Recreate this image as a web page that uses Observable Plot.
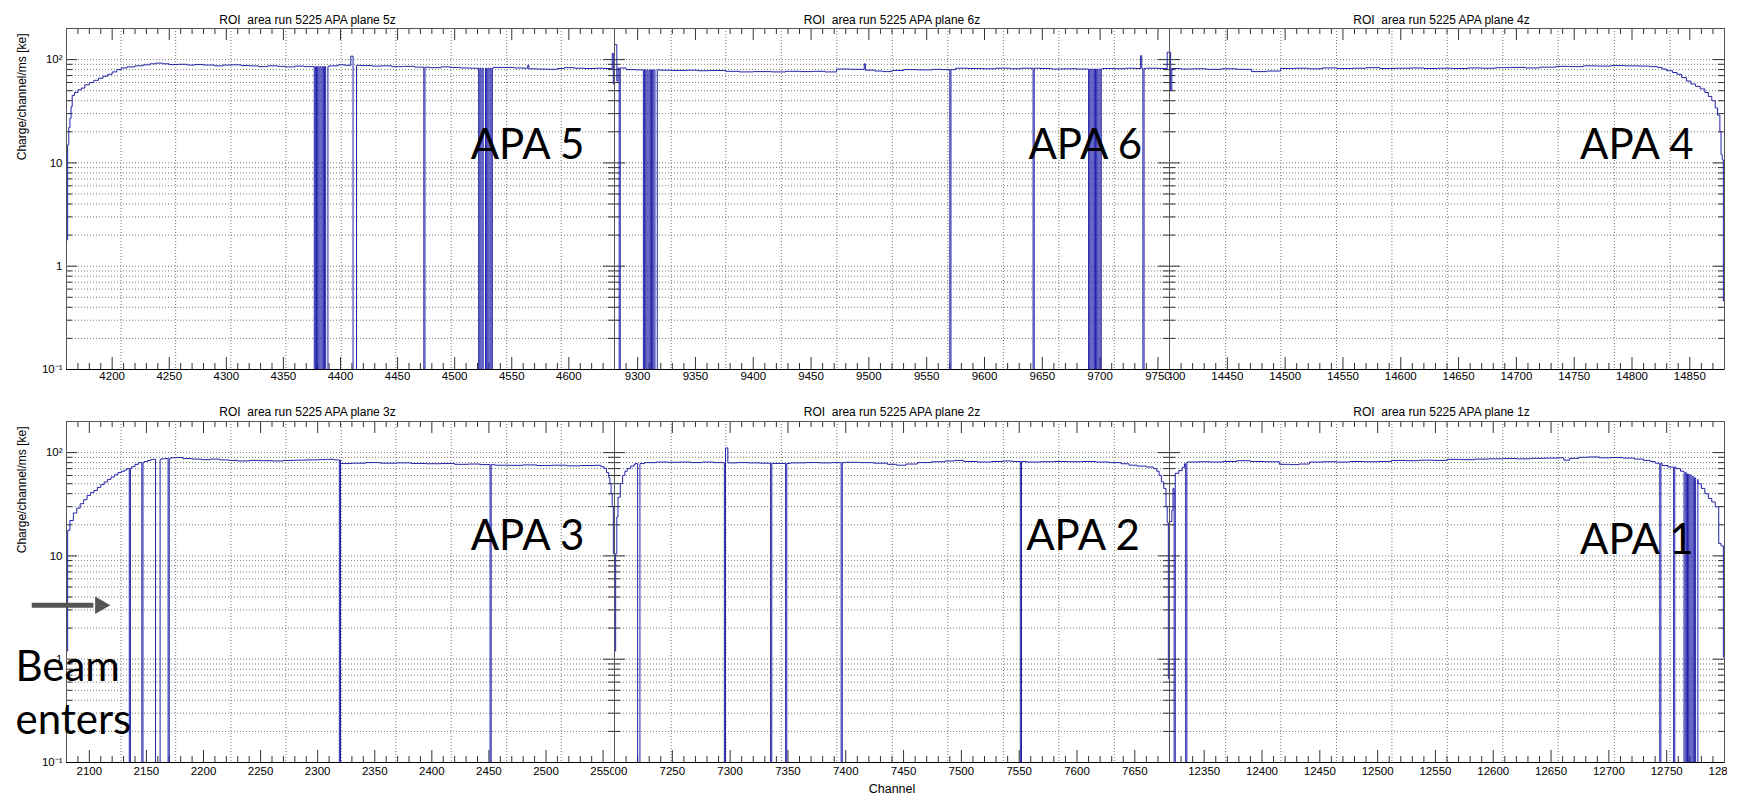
<!DOCTYPE html>
<html>
<head>
<meta charset="utf-8">
<script src="https://cdn.jsdelivr.net/npm/d3@7"></script>
<script src="https://cdn.jsdelivr.net/npm/@observablehq/plot@0.6"></script>
<style>
  html, body { margin: 0; padding: 0; background: #fff; }
  #chart { position: relative; width: 1739px; height: 800px; overflow: hidden; background: #fff; }
</style>
</head>
<body>
<div id="chart"></div>
<script>
// ---------------- data ----------------
const RUN = "5225";
const CHANNELS_PER_PLANE = 480;
const Y_DOMAIN = [0.1, 200];

// profile: [channel, charge] ; step histogram, value holds until next point
const apa5Profile = [[4160,1.8],[4161,15],[4162,22],[4163,27],[4164,35],[4165,45],[4167,48],[4170,51],[4173,53],[4176,57],[4180,60],[4184,63],[4188,66],[4192,69],[4196,72],[4200,76],[4204,80],[4208,83],[4213,85],[4220,87],[4227,89],[4233,91],[4238,92.5],[4244,91],[4250,89.5],[4258,90],[4266,88.5],[4272,89.5],[4280,88.5],[4290,87],[4297,88.5],[4305,89],[4313,87.5],[4320,87],[4328,85.5],[4336,87],[4345,86],[4352,85],[4360,86.5],[4368,85.5],[4390,87],[4398,89],[4404,88],[4409,108],[4411,88],[4418,87.5],[4428,86.5],[4436,87],[4445,85.5],[4455,86],[4465,84.5],[4478,83.5],[4488,85],[4496,84],[4505,83],[4514,82.5],[4534,84],[4542,84],[4552,83],[4560,82.5],[4564,88],[4565,81.5],[4572,81],[4581,80.5],[4590,82],[4596,83.5],[4605,82.5],[4614,82],[4623,82.5],[4630,82],[4638,115],[4639,58],[4640,58]];
// dead channels: [first, last+1, level before the drop]
const apa5Dead = [[4377,4378,85.5],[4379,4380,85.5],[4381,4382,85.5],[4383,4384,85.5],[4385,4386,85.5],[4387,4389,85.5],[4411,4414,88],[4473,4474,84.5],[4521,4522,82.5],[4523,4524,82.5],[4525,4527,82.5],[4528,4529,82.5],[4530,4531,82.5],[4532,4533,82.5]];

const apa6Profile = [[9280,140],[9282,62],[9283,83],[9290,80],[9298,79.5],[9320,79],[9330,78.5],[9342,79],[9352,78],[9362,78.5],[9376,77],[9388,76],[9400,76.5],[9416,76],[9428,77],[9440,76.5],[9452,77],[9462,76],[9472,81],[9484,80.5],[9496,91],[9497,79],[9505,77.5],[9512,76.5],[9520,78.5],[9530,80],[9542,79.5],[9555,80.5],[9563,80],[9575,82.5],[9586,82],[9598,81.5],[9610,82.5],[9622,81.5],[9632,82.5],[9648,82],[9658,81],[9668,81.5],[9680,81],[9702,82],[9712,81.5],[9722,82.5],[9730,82],[9735,109],[9736,82],[9740,82.5],[9750,82],[9758,118],[9760,118]];
const apa6Dead = [[9284,9285,83],[9305,9306,79.5],[9307,9308,79.5],[9309,9310,79.5],[9311,9312,79.5],[9313,9314,79.5],[9315,9317,79.5],[9570,9571,80],[9642,9643,82.5],[9690,9691,81],[9692,9693,81],[9694,9695,81],[9696,9697,81],[9698,9699,81],[9700,9701,81],[9737,9738,82]];

const apa4Profile = [[14400,118],[14401,50],[14402,82],[14410,81],[14420,81.5],[14432,80.5],[14445,81.5],[14458,80.5],[14471,76.5],[14484,77.5],[14496,82],[14508,82.5],[14520,81.5],[14532,83],[14545,82],[14558,82.5],[14570,83.5],[14582,82],[14595,82.5],[14608,83],[14620,82],[14632,82.5],[14645,82],[14658,83],[14670,82.5],[14682,83.5],[14695,84],[14708,83],[14720,84.5],[14734,86],[14746,85.5],[14758,87],[14770,86.5],[14782,87.5],[14794,87],[14806,86.5],[14815,85.5],[14822,84],[14826,81],[14830,78],[14835,75],[14839,72],[14843,67],[14847,62],[14851,58],[14855,55],[14859,52],[14863,48],[14866,44],[14869,40],[14872,34],[14874,29],[14876,20],[14877,12],[14878,10.7],[14879,0.46],[14880,0.46]];
const apa4Dead = [];

const apa3Profile = [[2080,1.2],[2081,17.7],[2083,22],[2086,26],[2089,29],[2092,32],[2095,35],[2098,38.5],[2101,41],[2104,43],[2107,46],[2110,49],[2113,52],[2116,55],[2119,58],[2122,61],[2125,64],[2128,66],[2131,68],[2133,70],[2137,73],[2140,77],[2143,80],[2148,82],[2151,84],[2154,86],[2163,87],[2166,87.5],[2171,89],[2176,89.5],[2182,87.5],[2190,86.5],[2198,85.5],[2206,86.5],[2214,85],[2222,84],[2230,83],[2240,84],[2250,83.5],[2260,83],[2270,84],[2280,84.5],[2290,85],[2300,85.5],[2308,86],[2314,85],[2320,78.3],[2330,79],[2342,80],[2355,79],[2369,79.5],[2382,78.5],[2395,78],[2408,78.3],[2420,77],[2432,77.5],[2442,76.5],[2455,75.5],[2468,75.3],[2480,76],[2492,75],[2505,75.5],[2518,74.5],[2530,75],[2542,75.3],[2548,73],[2551,70],[2553,64],[2555,57],[2556,50],[2557,40],[2558,30],[2559,10.5],[2560,10.5]];
const apa3Dead = [[2135,2136,70],[2146,2147,80],[2158,2162,86],[2169,2170,87.5],[2319,2320,85],[2451,2452,76.5]];

const apa2Profile = [[7200,1.2],[7201,10.5],[7202,23.8],[7203,37],[7205,50],[7207,60],[7209,66],[7211,70],[7214,74],[7217,77],[7218,78.3],[7226,80],[7236,81],[7246,80.5],[7256,81],[7266,80],[7276,81],[7286,80],[7296,111],[7298,79.5],[7306,80],[7316,79.5],[7326,79],[7337,78.5],[7352,79.5],[7365,80],[7378,79.5],[7388,80],[7400,80.5],[7412,80],[7424,79],[7436,77],[7444,75.5],[7452,77.5],[7462,80],[7474,81.5],[7486,83],[7494,84],[7502,82],[7514,81],[7526,82],[7536,83],[7544,82],[7556,81],[7568,81.5],[7580,82],[7592,81.5],[7604,82],[7616,81],[7628,80],[7638,78],[7645,75.5],[7652,74],[7660,72.5],[7666,70],[7669,66],[7671,60],[7673,52],[7675,45],[7677,30],[7678,21],[7679,0.65],[7680,0.65]];
const apa2Dead = [[7220,7222,78.3],[7295,7296,80],[7335,7336,79],[7348,7349,78.5],[7396,7397,80],[7551,7552,82]];

const apa1Profile = [[12320,21.5],[12322,27.6],[12323,45],[12325,63],[12328,67],[12331,72],[12333,78],[12335,81],[12345,81.5],[12355,81],[12366,82],[12378,83.5],[12390,82],[12402,81.5],[12415,77],[12424,76.5],[12432,77.5],[12441,81],[12452,81.5],[12464,81],[12476,82],[12488,81.5],[12500,82],[12512,84],[12524,83.5],[12536,84.5],[12548,84],[12560,86],[12572,85.5],[12584,86.5],[12596,87],[12608,87.5],[12620,87],[12632,88],[12645,88.5],[12657,89],[12661,84.5],[12666,88],[12674,90],[12682,90.7],[12692,89],[12702,89.5],[12712,88.5],[12722,86.5],[12730,84],[12736,82],[12740,79],[12746,75],[12751,72.5],[12758,70],[12762,66],[12777,50],[12780,45],[12783,40],[12786,36],[12789,33.3],[12792,29.8],[12795,13.2],[12797,12.5],[12799,1.05],[12800,1.05]];
const apa1Dead = [[12324,12325,45],[12334,12335,78],[12744,12745,79],[12756,12757,72.5],[12765,12766,64],[12767,12768,62],[12769,12770,61],[12771,12772,59],[12773,12774,57],[12775,12777,55]];

// x tick labels per plane
const apa5Ticks = [4200,4250,4300,4350,4400,4450,4500,4550,4600];
const apa6Ticks = [9300,9350,9400,9450,9500,9550,9600,9650,9700,9750];
const apa4Ticks = [14400,14450,14500,14550,14600,14650,14700,14750,14800,14850];
const apa3Ticks = [2100,2150,2200,2250,2300,2350,2400,2450,2500,2550];
const apa2Ticks = [7200,7250,7300,7350,7400,7450,7500,7550,7600,7650];
const apa1Ticks = [12350,12400,12450,12500,12550,12600,12650,12700,12750,12800];

// dotted vertical grid lines, channel offsets from the first channel of the plane
const gridCol1 = [47.8,95.6,144,192.2,240.7,288.5,337,385.5,433.3];
const gridCol2 = [49,96.3,144.3,192.3,240.3,288.3,336.3,384.3,432.3];
const gridCol3 = [48.5,96.3,144.4,192.4,240.2,288.3,336.1,384.8,432.9];

// y axis labels
const yTickValues = [100, 10, 1, 0.1];
const yTickText = ["10\u00b2", "10", "1", "10\u207b\u00b9"];
const yTitle = "Charge/channel/ms [ke]";
const xTitle = "Channel";

// big annotations (channel, charge of the baseline start)
const apaLabels = {
  "5z": [{text: "APA 5", x: 4514, y: 11}],
  "6z": [{text: "APA 6", x: 9638, y: 11}],
  "4z": [{text: "APA 4", x: 14755, y: 11}],
  "3z": [{text: "APA 3", x: 2434, y: 11.3}, {text: "Beam", x: 2035.3, y: 0.61}, {text: "enters", x: 2035.3, y: 0.19}],
  "2z": [{text: "APA 2", x: 7556, y: 11.3}],
  "1z": [{text: "APA 1", x: 12675, y: 10.4}]
};
const beamArrow = [{x1: 2050, x2: 2104, xHead: 2109.5, y: 3.33}];

// ---------------- layout ----------------
const rows = [
  {top: 0, height: 395, mt: 28, mb: 26, titleDy: -13, labelDy: 10},
  {top: 395, height: 405, mt: 26, mb: 38, titleDy: -14, labelDy: 12}
];
const cols = [
  {left: 0, width: 614, ml: 66, mr: 0, titleDx: -33, grid: gridCol1},
  {left: 614, width: 555, ml: 0, mr: 0, titleDx: 0, grid: gridCol2},
  {left: 1169, width: 558, ml: 0, mr: 3, titleDx: -5.5, grid: gridCol3}
];
const panels = [
  {row: 0, col: 0, plane: "5z", start: 4160, profile: apa5Profile, dead: apa5Dead, ticks: apa5Ticks},
  {row: 0, col: 1, plane: "6z", start: 9280, profile: apa6Profile, dead: apa6Dead, ticks: apa6Ticks},
  {row: 0, col: 2, plane: "4z", start: 14400, profile: apa4Profile, dead: apa4Dead, ticks: apa4Ticks},
  {row: 1, col: 0, plane: "3z", start: 2080, profile: apa3Profile, dead: apa3Dead, ticks: apa3Ticks},
  {row: 1, col: 1, plane: "2z", start: 7200, profile: apa2Profile, dead: apa2Dead, ticks: apa2Ticks},
  {row: 1, col: 2, plane: "1z", start: 12320, profile: apa1Profile, dead: apa1Dead, ticks: apa1Ticks}
];

const LINE = "#2222aa";
const GRID = "#7a7a7a";
const TICK = "#333";
const ROOTFONT = "'Liberation Sans', Arial, Helvetica, sans-serif";
const Y_FLOOR = 0.02;

const yMajor = [0.1, 1, 10, 100];
const yMinor = [];
for (const dec of yMajor) for (let m = 2; m <= 9; m++) {
  const v = +(m * dec).toPrecision(3);
  if (v < Y_DOMAIN[1]) yMinor.push(v);
}
const yGrid = yMajor.slice(1).concat(yMinor);

function histogram(profile, dead) {
  const pts = [];
  const d = dead.slice().sort((a, b) => a[0] - b[0]);
  let k = 0;
  const flush = (x) => {
    while (k < d.length && x > d[k][0]) {
      const [s, e, t] = d[k++];
      pts.push({x: s, y: t}, {x: s, y: Y_FLOOR}, {x: e, y: Y_FLOOR}, {x: e, y: t});
    }
  };
  for (const [x, y] of profile) { flush(x); pts.push({x, y}); }
  flush(Infinity);
  return pts;
}

const chart = document.getElementById("chart");
for (const p of panels) {
  const r = rows[p.row], c = cols[p.col];
  const fw = c.width - c.ml - c.mr, fh = r.height - r.mt - r.mb;
  const end = p.start + CHANNELS_PER_PLANE;
  const xMajor = d3.range(Math.ceil(p.start / 50) * 50, end + 1, 50);
  const xMinor = d3.range(p.start + 10, end, 10).filter(v => v % 50 !== 0);
  const gridX = c.grid.map(o => p.start + o);
  const title = `ROI\u00a0 area run ${RUN} APA plane ${p.plane}`;

  const marks = [
    Plot.ruleY(yGrid, {stroke: GRID, strokeDasharray: "1,2"}),
    Plot.ruleX(gridX, {stroke: GRID, strokeDasharray: "1,2"}),
    // y ticks, left and right
    Plot.ruleY(yMajor, {stroke: TICK, insetRight: fw - 11}),
    Plot.ruleY(yMinor, {stroke: TICK, insetRight: fw - 6}),
    Plot.ruleY(yMajor, {stroke: TICK, insetLeft: fw - 11}),
    Plot.ruleY(yMinor, {stroke: TICK, insetLeft: fw - 6}),
    // x ticks, bottom and top
    Plot.ruleX(xMajor, {stroke: TICK, insetTop: fh - 12}),
    Plot.ruleX(xMinor, {stroke: TICK, insetTop: fh - 6}),
    Plot.ruleX(xMajor, {stroke: TICK, insetBottom: fh - 12}),
    Plot.ruleX(xMinor, {stroke: TICK, insetBottom: fh - 6}),
    Plot.line(histogram(p.profile, p.dead), {x: "x", y: "y", curve: "step-after", stroke: LINE, strokeWidth: 1, clip: true}),
    Plot.frame({stroke: "#555"}),
    Plot.ruleY([Y_DOMAIN[0]], {stroke: "#000"}),
    Plot.text(p.ticks, {x: d => d, text: d => String(d), frameAnchor: "bottom", dy: r.labelDy, fontSize: 11.5, fill: "#000"}),
    Plot.text([title], {frameAnchor: "top", dx: c.titleDx, dy: r.titleDy, fontSize: 12, fill: "#000"})
  ];
  if (p.col === 0) {
    marks.push(
      Plot.text(yTickValues, {y: d => d, text: (d, i) => yTickText[i], frameAnchor: "left", dx: -4, textAnchor: "end", fontSize: 11.5, fill: "#000"}),
      Plot.text([yTitle], {frameAnchor: "top-left", rotate: -90, textAnchor: "end", dx: -49, dy: 5, fontSize: 12, fill: "#000"})
    );
  }
  if (p.row === 1 && p.col === 1) {
    marks.push(Plot.text([xTitle], {frameAnchor: "bottom", dy: 30, fontSize: 12.5, fill: "#000"}));
  }
  if (p.plane === "3z") {
    marks.push(
      Plot.ruleY(beamArrow, {y: "y", x1: "x1", x2: "x2", stroke: "#555", strokeWidth: 5}),
      Plot.dot(beamArrow, {x: "xHead", y: "y", symbol: "triangle", r: 6.5, rotate: 90, fill: "#555", stroke: "none"})
    );
  }
  marks.push(Plot.text(apaLabels[p.plane], {x: "x", y: "y", text: "text", textAnchor: "start", lineAnchor: "bottom", fontFamily: "Lato, 'Open Sans', sans-serif", fontSize: 42, fill: "#000"}));

  const svg = Plot.plot({
    width: c.width,
    height: r.height,
    marginTop: r.mt,
    marginBottom: r.mb,
    marginLeft: c.ml,
    marginRight: c.mr,
    x: {domain: [p.start, end], axis: null},
    y: {type: "log", domain: Y_DOMAIN, axis: null},
    style: {fontFamily: ROOTFONT, fontSize: "11.5px", background: "transparent", overflow: "hidden", color: "#000"},
    marks
  });
  svg.style.position = "absolute";
  svg.style.left = c.left + "px";
  svg.style.top = r.top + "px";
  svg.style.width = c.width + "px";
  svg.style.height = r.height + "px";
  svg.style.maxWidth = "none";
  chart.appendChild(svg);
}
</script>
</body>
</html>
